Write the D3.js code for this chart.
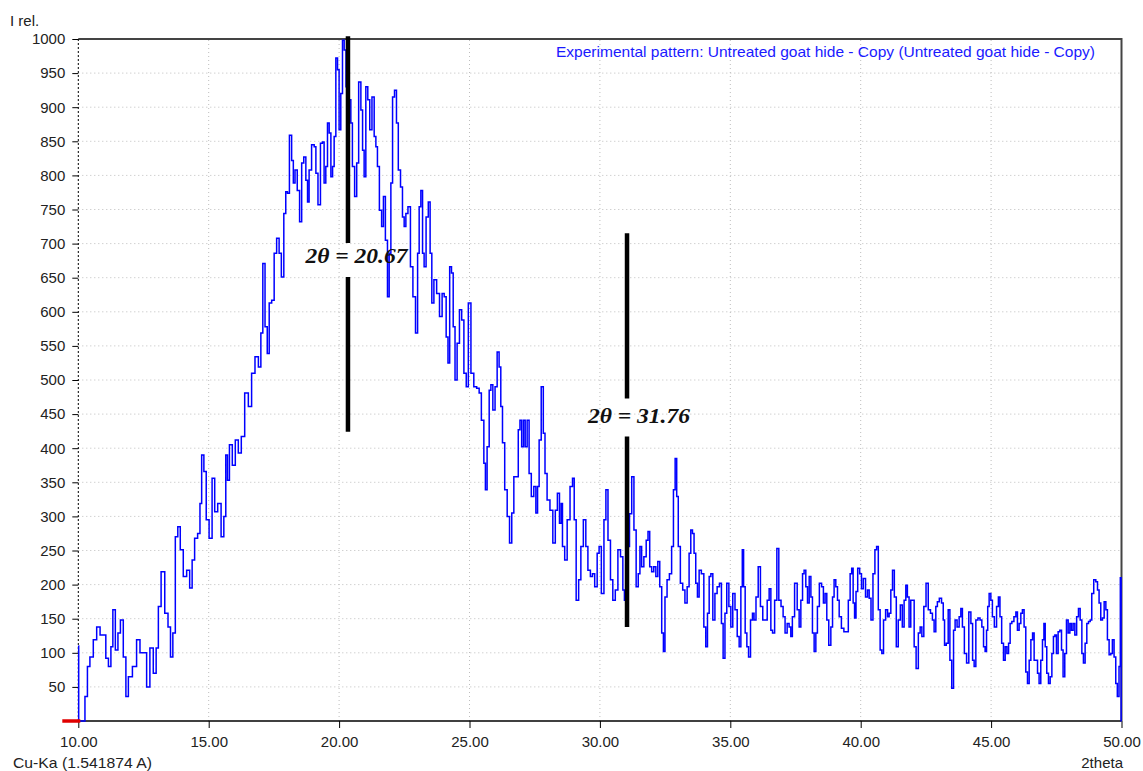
<!DOCTYPE html>
<html>
<head>
<meta charset="utf-8">
<script src="https://cdn.jsdelivr.net/npm/d3@7"></script>
<style>
  html, body { margin: 0; padding: 0; background: #fff; }
  svg { display: block; }
</style>
</head>
<body>
<div id="chart"></div>
<script>
// ---- data ----
const twoTheta = [
 10.00,10.03,10.19,10.32,10.38,10.51,10.64,10.77,10.90,11.02,11.09,11.22,11.28,11.37,11.47,11.57,11.66,11.79,11.86,11.98,
 12.17,12.30,12.43,12.56,12.68,12.81,12.94,13.03,13.11,13.24,13.39,13.49,13.58,13.67,13.77,13.86,13.96,14.09,14.22,14.32,
 14.41,14.51,14.64,14.69,14.77,14.86,14.95,15.08,15.18,15.28,15.41,15.54,15.62,15.69,15.75,15.84,15.97,16.07,16.20,16.30,
 16.46,16.58,16.71,16.84,16.97,17.03,17.12,17.20,17.29,17.35,17.48,17.54,17.67,17.73,17.84,17.92,17.99,18.05,18.14,18.22,
 18.27,18.35,18.44,18.53,18.60,18.69,18.76,18.82,18.88,19.01,19.08,19.14,19.24,19.33,19.39,19.46,19.52,19.59,19.65,19.72,
 19.78,19.84,19.91,19.97,20.03,20.10,20.16,20.23,20.30,20.36,20.42,20.48,20.54,20.65,20.70,20.80,20.87,20.93,20.99,21.06,
 21.14,21.21,21.31,21.38,21.44,21.50,21.59,21.67,21.73,21.82,21.89,21.95,22.02,22.08,22.17,22.23,22.31,22.40,22.46,22.53,
 22.59,22.69,22.78,22.88,22.98,23.04,23.10,23.17,23.23,23.29,23.38,23.46,23.52,23.59,23.68,23.80,23.90,24.00,24.06,24.15,
 24.20,24.28,24.34,24.41,24.48,24.57,24.66,24.74,24.83,24.92,24.99,25.12,25.21,25.34,25.40,25.51,25.59,25.63,25.72,25.79,
 25.85,25.94,26.02,26.10,26.17,26.23,26.30,26.40,26.49,26.58,26.66,26.74,26.83,26.91,26.96,27.04,27.10,27.17,27.25,27.32,
 27.42,27.51,27.58,27.64,27.70,27.80,27.86,27.93,28.02,28.15,28.24,28.34,28.40,28.50,28.53,28.60,28.70,28.79,28.92,28.98,
 29.05,29.13,29.24,29.30,29.43,29.49,29.59,29.68,29.75,29.85,29.94,30.00,30.11,30.20,30.26,30.36,30.45,30.54,30.64,30.74,
 30.84,30.92,30.96,31.02,31.09,31.18,31.26,31.35,31.43,31.51,31.56,31.64,31.73,31.82,31.87,31.95,32.02,32.11,32.18,32.26,
 32.33,32.41,32.46,32.53,32.62,32.71,32.79,32.85,32.92,32.97,33.04,33.13,33.22,33.30,33.39,33.45,33.52,33.58,33.64,33.71,
 33.77,33.84,33.94,34.03,34.09,34.16,34.22,34.29,34.37,34.45,34.54,34.63,34.69,34.76,34.83,34.90,34.99,35.05,35.14,35.22,
 35.31,35.37,35.44,35.48,35.54,35.60,35.67,35.73,35.82,35.88,35.94,36.03,36.11,36.20,36.29,36.37,36.46,36.52,36.59,36.65,
 36.75,36.82,36.90,36.99,37.06,37.14,37.22,37.29,37.35,37.41,37.52,37.61,37.67,37.74,37.80,37.86,37.93,37.99,38.06,38.12,
 38.18,38.25,38.31,38.37,38.46,38.54,38.60,38.67,38.73,38.82,38.89,38.95,39.01,39.08,39.14,39.21,39.31,39.40,39.49,39.56,
 39.63,39.68,39.74,39.79,39.85,39.92,40.00,40.06,40.14,40.23,40.29,40.36,40.43,40.51,40.58,40.64,40.71,40.78,40.84,40.91,
 41.00,41.06,41.12,41.19,41.25,41.33,41.40,41.48,41.56,41.63,41.70,41.76,41.82,41.89,41.95,42.02,42.08,42.17,42.25,42.31,
 42.38,42.46,42.55,42.63,42.72,42.78,42.85,42.91,42.97,43.06,43.14,43.19,43.24,43.32,43.39,43.45,43.53,43.59,43.65,43.74,
 43.81,43.87,43.93,44.02,44.10,44.19,44.26,44.32,44.38,44.45,44.54,44.61,44.68,44.74,44.80,44.85,44.89,44.96,45.02,45.08,
 45.17,45.25,45.31,45.37,45.44,45.51,45.57,45.64,45.70,45.76,45.83,45.92,45.98,46.04,46.11,46.17,46.23,46.30,46.36,46.43,
 46.49,46.56,46.62,46.68,46.75,46.81,46.87,46.94,47.00,47.05,47.10,47.17,47.23,47.30,47.36,47.42,47.47,47.54,47.60,47.67,
 47.73,47.79,47.86,47.92,47.99,48.05,48.11,48.18,48.24,48.32,48.38,48.45,48.51,48.57,48.64,48.70,48.77,48.83,48.89,48.98,
 49.05,49.11,49.17,49.24,49.30,49.37,49.43,49.49,49.56,49.62,49.68,49.75,49.81,49.87,49.94,49.97,50.00
];
const intensity = [
 110,0,0,36,80,94,119,138,126,126,92,80,109,163,104,129,148,94,36,65,
 80,119,100,100,50,107,70,107,168,219,158,138,94,129,270,285,251,212,221,195,
 236,268,275,319,390,366,295,268,356,307,319,270,300,390,353,405,375,412,393,417,
 481,461,510,534,519,569,671,578,539,613,617,686,708,686,651,744,776,774,859,822,
 789,808,778,732,818,827,793,761,808,845,842,803,757,847,849,789,813,877,862,798,
 813,857,972,955,867,920,998,984,930,900,911,877,813,769,818,937,896,837,798,930,
 911,867,915,857,842,813,749,725,769,705,622,686,789,915,925,877,808,783,739,725,
 744,754,666,622,569,686,754,778,686,666,739,761,686,613,647,627,593,627,622,563,
 525,666,657,578,500,554,603,588,510,490,613,510,490,488,481,441,378,339,402,485,
 493,456,490,541,519,461,408,339,300,261,305,358,358,427,441,402,441,402,441,363,
 329,344,305,344,412,490,422,363,324,309,261,309,334,290,319,256,236,295,344,356,
 295,177,207,256,295,256,221,212,216,197,246,256,187,295,339,265,207,177,192,251,
 241,192,177,230,256,304,358,280,197,216,256,226,241,265,278,226,219,226,212,234,
 197,129,102,182,207,216,256,339,385,329,256,202,192,173,197,246,280,275,246,202,
 182,221,216,138,109,158,212,216,148,187,197,202,143,92,158,202,168,138,187,163,
 124,109,197,251,197,129,109,94,148,158,148,182,226,168,148,148,177,194,133,129,
 177,253,177,168,153,129,143,138,124,153,202,163,138,177,216,221,197,173,212,182,
 129,102,129,168,202,197,173,187,148,111,138,182,207,197,177,153,136,131,131,177,
 216,224,173,151,190,224,216,194,209,182,192,180,148,216,251,256,163,104,99,148,
 163,153,158,192,221,182,109,148,170,138,177,199,182,138,177,177,109,77,129,138,
 124,168,202,163,158,148,131,168,175,180,173,148,111,114,163,89,48,133,148,138,
 153,165,138,99,85,160,143,89,80,148,151,148,138,109,102,133,168,187,177,153,
 138,168,182,153,114,89,109,99,114,143,146,153,160,133,143,158,163,138,72,55,
 89,119,129,89,89,70,55,89,119,143,109,70,55,65,99,124,126,99,131,133,
 104,65,99,148,129,143,133,143,126,153,165,148,99,85,114,143,146,148,187,207,
 204,192,173,148,151,175,163,119,97,99,119,94,55,36,80,210,0
];
const yTicks = [50,100,150,200,250,300,350,400,450,500,550,600,650,700,750,800,850,900,950,1000];
const xTicks = [10,15,20,25,30,35,40,45,50];
const annotX = [20.34, 31.04];
const annotLabels = ["2θ = 20.67", "2θ = 31.76"];
const annotUpper = [[1004, 701], [715, 473]];   // intensity extent of upper bar
const annotLower = [[651, 424], [417, 138]];    // intensity extent of lower bar
const annotLabelY = [671, 437];
const legendText = "Experimental pattern: Untreated goat hide - Copy (Untreated goat hide - Copy)";
const yTitle = "I rel.";
const xTitle = "2theta";
const sourceText = "Cu-Ka (1.541874 A)";

// ---- drawing ----
const W = 1143, H = 771;
const x = d3.scaleLinear().domain([10, 50]).range([78.3, 1121.5]);
const y = d3.scaleLinear().domain([0, 1000]).range([721, 39]);

const svg = d3.select("#chart").append("svg").attr("width", W).attr("height", H);
const FONT = "'Liberation Sans', Arial, sans-serif";

// grid
svg.append("g").selectAll("line").data(yTicks).join("line")
  .attr("x1", x(10)).attr("x2", x(50))
  .attr("y1", d => y(d)).attr("y2", d => y(d))
  .attr("stroke", "#bdbdbd").attr("stroke-width", 1).attr("stroke-dasharray", "1,3");
svg.append("g").selectAll("line").data(xTicks.slice(1, -1)).join("line")
  .attr("x1", d => x(d)).attr("x2", d => x(d))
  .attr("y1", y(0)).attr("y2", y(1000))
  .attr("stroke", "#bdbdbd").attr("stroke-width", 1).attr("stroke-dasharray", "1,3");

// frame: top and right
svg.append("path")
  .attr("d", `M${x(10)},${y(1000)}H${x(50)}V${y(0)}`)
  .attr("fill", "none").attr("stroke", "#444").attr("stroke-width", 2);
// left axis dotted
svg.append("line").attr("x1", x(10)).attr("x2", x(10)).attr("y1", y(1000)).attr("y2", y(0))
  .attr("stroke", "#000").attr("stroke-width", 1).attr("stroke-dasharray", "2,2");

// axes
const yAxis = d3.axisLeft(y).tickValues(yTicks).tickSize(6).tickPadding(7).tickFormat(d3.format("d"));
const gy = svg.append("g").attr("transform", `translate(${x(10)},0)`).call(yAxis);
gy.select(".domain").remove();
gy.selectAll("text").attr("font-family", FONT).attr("font-size", 15).attr("fill", "#222");
gy.selectAll("line").attr("stroke", "#000");

const xAxis = d3.axisBottom(x).tickValues(xTicks).tickSize(7).tickPadding(8).tickFormat(d3.format(".2f"));
const gx = svg.append("g").attr("transform", `translate(0,${y(0)})`).call(xAxis);
gx.select(".domain").remove();
gx.selectAll("text").attr("font-family", FONT).attr("font-size", 15).attr("fill", "#222");
gx.selectAll("line").attr("stroke", "#000");

// bottom axis line
svg.append("line").attr("x1", x(10)).attr("x2", x(50)).attr("y1", y(0)).attr("y2", y(0))
  .attr("stroke", "#000").attr("stroke-width", 1.5);

// data line
const pts = twoTheta.map((t, i) => [t, intensity[i]]);
const line = d3.line().x(d => x(d[0])).y(d => y(d[1])).curve(d3.curveStep);
svg.append("path").datum(pts).attr("d", line)
  .attr("fill", "none").attr("stroke", "#0000ff").attr("stroke-width", 1.5)
  .attr("stroke-linejoin", "miter");

// red origin marker
svg.append("line").attr("x1", x(10) - 16).attr("x2", x(10) + 2).attr("y1", y(0)).attr("y2", y(0))
  .attr("stroke", "#e00000").attr("stroke-width", 3.5);

// annotations
annotX.forEach((a, i) => {
  [annotUpper[i], annotLower[i]].forEach(seg => {
    svg.append("line").attr("x1", x(a)).attr("x2", x(a))
      .attr("y1", y(seg[0])).attr("y2", y(seg[1]))
      .attr("stroke", "#000").attr("stroke-width", 4.5);
  });
  svg.append("text")
    .attr("x", x(a) + (i === 0 ? 8.5 : 12)).attr("y", y(annotLabelY[i]))
    .attr("text-anchor", "middle")
    .attr("font-family", "'Liberation Serif', 'Times New Roman', serif")
    .attr("font-size", 22).attr("font-weight", "bold").attr("font-style", "italic")
    .attr("fill", "#111")
    .attr("textLength", 102).attr("lengthAdjust", "spacingAndGlyphs")
    .text(annotLabels[i]);
});

// legend
svg.append("text").attr("x", 1095).attr("y", 57).attr("text-anchor", "end")
  .attr("font-family", FONT).attr("font-size", 14.5).attr("fill", "#1a1aff")
  .attr("textLength", 539).attr("lengthAdjust", "spacingAndGlyphs")
  .text(legendText);

// titles
svg.append("text").attr("x", 10).attr("y", 26).attr("font-family", FONT).attr("font-size", 15)
  .attr("fill", "#222").text(yTitle);
svg.append("text").attr("x", 13).attr("y", 768).attr("font-family", FONT).attr("font-size", 15)
  .attr("fill", "#222").attr("textLength", 139).attr("lengthAdjust", "spacingAndGlyphs").text(sourceText);
svg.append("text").attr("x", 1123).attr("y", 768).attr("text-anchor", "end").attr("font-family", FONT)
  .attr("font-size", 15).attr("fill", "#222").text(xTitle);
</script>
</body>
</html>
